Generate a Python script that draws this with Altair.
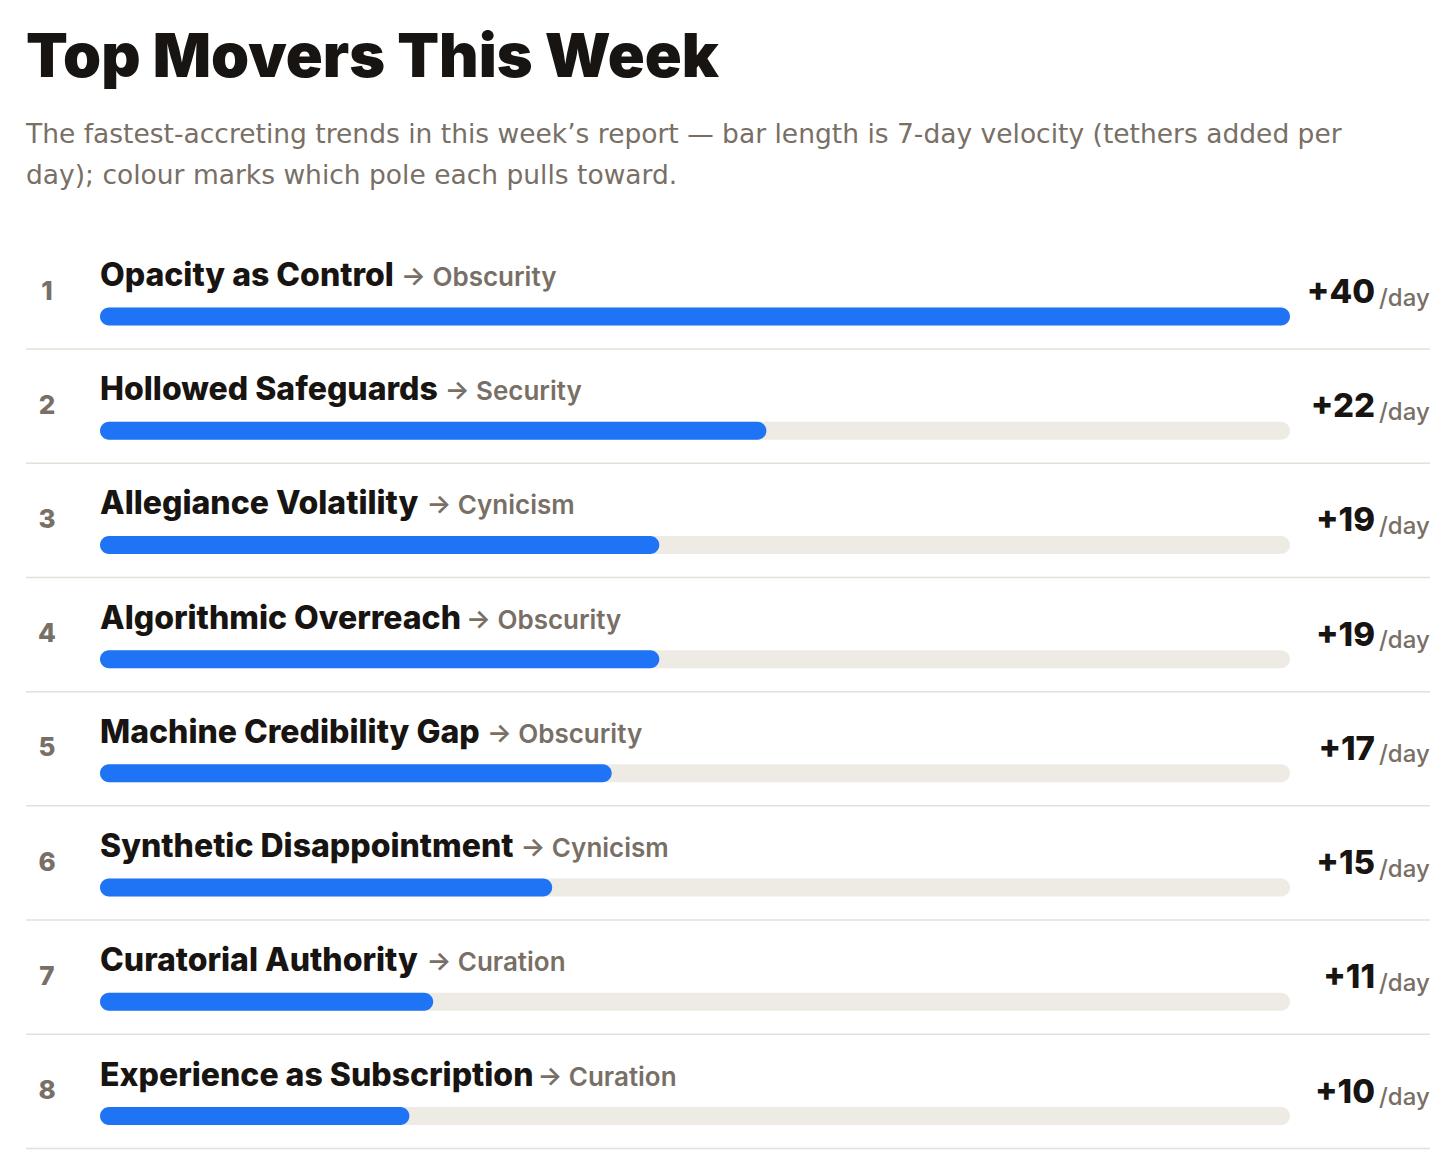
import altair as alt
import pandas as pd

# ---------------- data ----------------
ranks = [1, 2, 3, 4, 5, 6, 7, 8]
trends = [
    "Opacity as Control",
    "Hollowed Safeguards",
    "Allegiance Volatility",
    "Algorithmic Overreach",
    "Machine Credibility Gap",
    "Synthetic Disappointment",
    "Curatorial Authority",
    "Experience as Subscription",
]
poles = ["Obscurity", "Security", "Cynicism", "Obscurity",
         "Obscurity", "Cynicism", "Curation", "Curation"]
velocity = [40, 22.4, 18.8, 18.8, 17.2, 15.2, 11.2, 10.4]
velocity_max = 40

title_text = "Top Movers This Week"
subtitle_lines = [
    "The fastest-accreting trends in this week\u2019s report \u2014 bar length is 7-day velocity (tethers added per",
    "day); colour marks which pole each pulls toward.",
]

# ---------------- style ----------------
HEAVY = "Inter"
BODY = "DejaVu Sans"
INK = "#171411"
GRAY = "#786F66"
BLUE = "#1F74F5"
TRACK = "#EEEBE5"
SEP = "#E4DFD7"

NAME_SIZE = 32
W, H = 1440, 1159
BAR_X0, BAR_X1 = 92, 1282

# rough advance widths (em) of the bold sans, to place the "→ pole" after the name
_w = {
    " ": 0.26, "i": 0.30, "l": 0.30, "j": 0.30, "t": 0.41, "f": 0.40, "r": 0.43,
    "m": 0.92, "w": 0.82, "c": 0.56, "s": 0.55, "a": 0.58, "e": 0.59, "o": 0.61,
    "y": 0.57, "v": 0.57, "k": 0.58, "x": 0.57, "z": 0.52, "g": 0.62,
    "n": 0.62, "u": 0.62, "h": 0.62, "p": 0.62, "b": 0.62, "d": 0.62,
    "O": 0.76, "C": 0.73, "G": 0.76, "M": 0.92, "W": 1.02, "I": 0.30, "A": 0.73,
    "H": 0.76, "S": 0.66, "E": 0.60, "P": 0.67, "R": 0.68, "T": 0.64,
    "D": 0.74, "V": 0.72,
}
WIDTH_FACTOR = 1.0


def est_width(s, size):
    return sum(_w.get(ch, 0.62) for ch in s) * size * WIDTH_FACTOR


df = pd.DataFrame({
    "rank": ranks,
    "trend": trends,
    "pole": poles,
    "velocity": velocity,
})
df["pole_label"] = "\u2192 " + df["pole"]
df["pole_x"] = [BAR_X0 + est_width(t, NAME_SIZE) + 8 for t in trends]
df["zero"] = 0
df["track_end"] = velocity_max

xscale = alt.Scale(domain=[0, velocity_max], range=[BAR_X0, BAR_X1], padding=0)
yscale = alt.Scale(domain=[1, 8], range=[308.5, 1108], padding=0)
Y = alt.Y("rank:Q", scale=yscale, axis=None)

base = alt.Chart(df)

separators = base.mark_rule(color=SEP, strokeWidth=1.5, yOffset=32.5).encode(
    x=alt.value(18), x2=alt.value(1422), y=Y
)

track = base.mark_bar(size=18, cornerRadius=9, color=TRACK).encode(
    x=alt.X("zero:Q", scale=xscale, axis=None),
    x2="track_end:Q",
    y=Y,
)

fill = base.mark_bar(size=18, cornerRadius=9, color=BLUE).encode(
    x=alt.X("zero:Q", scale=xscale, axis=None),
    x2="velocity:Q",
    y=Y,
)

rank_text = base.mark_text(
    font=HEAVY, fontSize=26, fontWeight=800, color=GRAY,
    align="center", baseline="middle", dy=-25,
).encode(x=alt.value(39), y=Y, text="rank:N")

name_text = base.mark_text(
    font=HEAVY, fontSize=NAME_SIZE, fontWeight=800, color=INK,
    align="left", baseline="alphabetic", dy=-30.5,
).encode(x=alt.value(BAR_X0), y=Y, text="trend:N")

pole_text = base.mark_text(
    font=HEAVY, fontSize=26, fontWeight=600, color=GRAY,
    align="left", baseline="alphabetic", dy=-30.5,
).encode(x=alt.X("pole_x:Q", scale=None, axis=None), y=Y, text="pole_label:N")

value_text = base.transform_calculate(
    vlabel="'+' + format(datum.velocity, '.0f')"
).mark_text(
    font=HEAVY, fontSize=33, fontWeight=800, color=INK,
    align="right", baseline="alphabetic", dy=-13.5,
).encode(x=alt.value(1367), y=Y, text="vlabel:N")

per_day = base.mark_text(
    font=HEAVY, fontSize=24, fontWeight=500, color=GRAY,
    align="left", baseline="alphabetic", dy=-11,
).encode(x=alt.value(1371), y=Y, text=alt.value("/day"))

one = alt.Chart(pd.DataFrame({"k": [0]}))
title_mark = one.mark_text(
    font=HEAVY, fontSize=61, fontWeight=900, color=INK,
    align="left", baseline="alphabetic", text=title_text,
).encode(x=alt.value(18), y=alt.value(69))

subtitle_mark = one.mark_text(
    font=BODY, fontSize=26.5, fontWeight=400, color=GRAY,
    align="left", baseline="alphabetic", lineHeight=41, text=subtitle_lines,
).encode(x=alt.value(18), y=alt.value(135))

chart = alt.layer(
    separators, track, fill, rank_text, name_text, pole_text,
    value_text, per_day, title_mark, subtitle_mark,
).resolve_scale(x="independent").properties(
    width=W, height=H,
    autosize=alt.AutoSizeParams(type="none"),
    padding=0,
    background="white",
).configure_view(stroke=None)

chart.save("out.html", embed_options={"renderer": "svg", "actions": False})
